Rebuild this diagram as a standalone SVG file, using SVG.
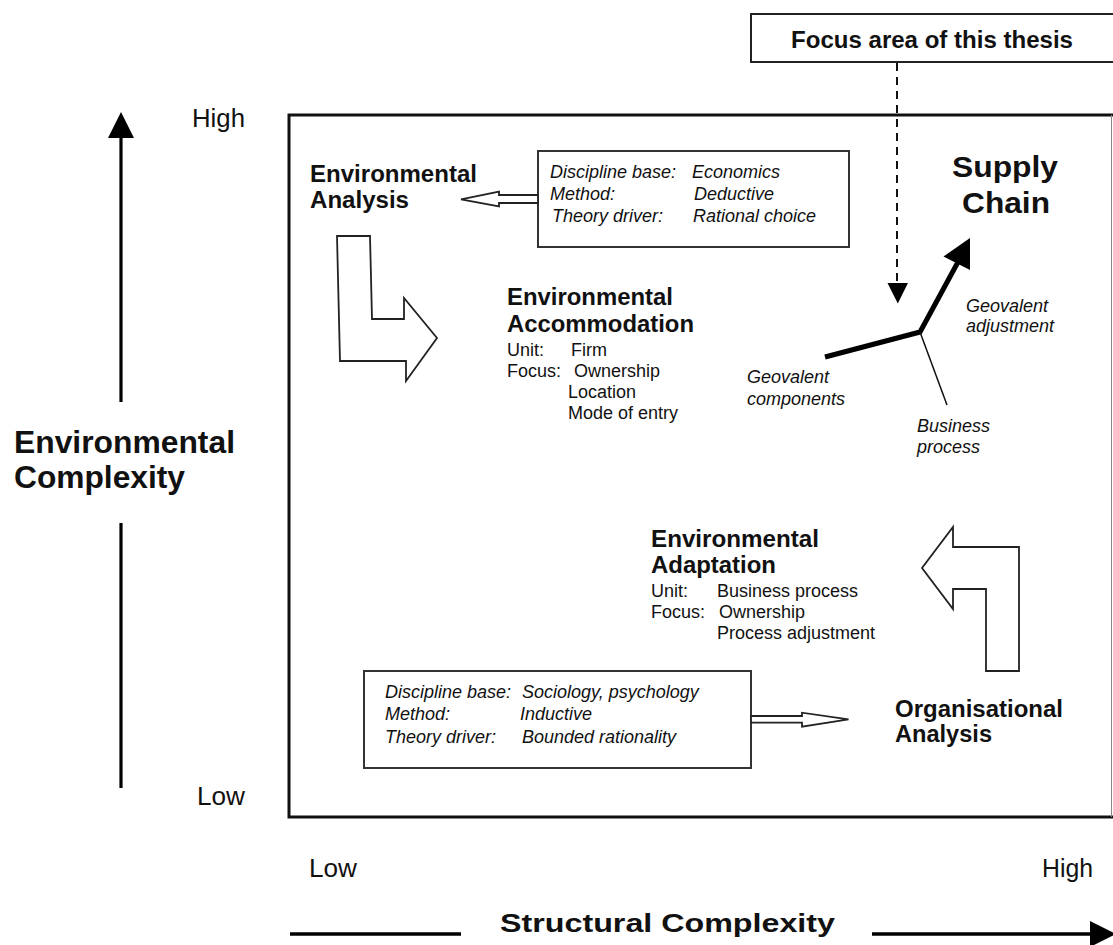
<svg xmlns="http://www.w3.org/2000/svg" width="1113" height="945" viewBox="0 0 1113 945">
<style>
text{font-family:"Liberation Sans",Arial,Helvetica,sans-serif;fill:#111}
.b{font-weight:bold}
.h{font-weight:bold;font-size:23px}
.r{font-size:18px}
.i{font-size:18px;font-style:italic}
.ax{font-size:25px}
.box{fill:#fff;stroke:#333;stroke-width:2}
.hollow{fill:#fff;stroke:#222;stroke-width:1.8;stroke-linejoin:miter}
.thick{stroke:#000;stroke-width:5;fill:none}
</style>
<rect width="1113" height="945" fill="#fff"/>

<g id="frame">
<path d="M1113,115 H289 V817 H1113" fill="none" stroke="#111" stroke-width="3"/>
<line x1="1111.5" y1="115" x2="1111.5" y2="817" stroke="#888" stroke-width="1"/>
</g>

<g id="y-axis">
<line x1="121" y1="136" x2="121" y2="402" stroke="#000" stroke-width="3.2"/>
<polygon points="108,138 134,138 121,112" fill="#000"/>
<line x1="121" y1="523" x2="121" y2="788" stroke="#000" stroke-width="3.2"/>
<text class="b" x="14" y="453" font-size="31" textLength="221" lengthAdjust="spacingAndGlyphs">Environmental</text>
<text class="b" x="14" y="488" font-size="31" textLength="171" lengthAdjust="spacingAndGlyphs">Complexity</text>
<text class="ax" x="192" y="127" textLength="53" lengthAdjust="spacingAndGlyphs">High</text>
<text class="ax" x="197" y="805" textLength="48" lengthAdjust="spacingAndGlyphs">Low</text>
</g>

<g id="x-axis">
<line x1="290" y1="934" x2="461" y2="934" stroke="#000" stroke-width="3.5"/>
<line x1="872" y1="934" x2="1092" y2="934" stroke="#000" stroke-width="3.5"/>
<polygon points="1090,921 1090,947 1116,934" fill="#000"/>
<text class="b" x="500" y="932" font-size="26" textLength="335" lengthAdjust="spacingAndGlyphs">Structural Complexity</text>
<text class="ax" x="309" y="877" textLength="48" lengthAdjust="spacingAndGlyphs">Low</text>
<text class="ax" x="1042" y="877" textLength="51" lengthAdjust="spacingAndGlyphs">High</text>
</g>

<g id="focus-box">
<rect x="751" y="14" width="370" height="48" fill="#fff" stroke="#222" stroke-width="2"/>
<text class="b" x="791" y="48" font-size="23" textLength="282" lengthAdjust="spacingAndGlyphs">Focus area of this thesis</text>
</g>

<g id="environmental-analysis">
<text class="h" x="310" y="182" textLength="167" lengthAdjust="spacingAndGlyphs">Environmental</text>
<text class="h" x="310" y="208" textLength="99" lengthAdjust="spacingAndGlyphs">Analysis</text>
</g>

<g id="economics-box">
<rect class="box" x="538" y="151" width="311" height="96"/>
<text class="i" x="550" y="178">Discipline base:</text>
<text class="i" x="692" y="178">Economics</text>
<text class="i" x="550" y="200">Method:</text>
<text class="i" x="694" y="200">Deductive</text>
<text class="i" x="552" y="222">Theory driver:</text>
<text class="i" x="693" y="222">Rational choice</text>
</g>

<g id="environmental-accommodation">
<text class="h" x="507" y="305" textLength="166" lengthAdjust="spacingAndGlyphs">Environmental</text>
<text class="h" x="507" y="332" textLength="187" lengthAdjust="spacingAndGlyphs">Accommodation</text>
<text class="r" x="507" y="356">Unit:</text>
<text class="r" x="571" y="356">Firm</text>
<text class="r" x="507" y="377">Focus:</text>
<text class="r" x="574" y="377">Ownership</text>
<text class="r" x="568" y="398">Location</text>
<text class="r" x="568" y="419">Mode of entry</text>
</g>

<g id="supply-chain">
<text class="b" x="952" y="177" font-size="30" textLength="106" lengthAdjust="spacingAndGlyphs">Supply</text>
<text class="b" x="962" y="213" font-size="30" textLength="88" lengthAdjust="spacingAndGlyphs">Chain</text>
<text class="i" x="966" y="312">Geovalent</text>
<text class="i" x="966" y="332">adjustment</text>
<text class="i" x="747" y="383">Geovalent</text>
<text class="i" x="747" y="405">components</text>
<text class="i" x="917" y="432">Business</text>
<text class="i" x="917" y="453">process</text>
</g>

<g id="environmental-adaptation">
<text class="h" x="651" y="547" textLength="168" lengthAdjust="spacingAndGlyphs">Environmental</text>
<text class="h" x="651" y="573" textLength="125" lengthAdjust="spacingAndGlyphs">Adaptation</text>
<text class="r" x="651" y="597">Unit:</text>
<text class="r" x="717" y="597">Business process</text>
<text class="r" x="651" y="618">Focus:</text>
<text class="r" x="719" y="618">Ownership</text>
<text class="r" x="717" y="639">Process adjustment</text>
</g>

<g id="sociology-box">
<rect class="box" x="364" y="671" width="387" height="97"/>
<text class="i" x="385" y="698">Discipline base:</text>
<text class="i" x="522" y="698">Sociology, psychology</text>
<text class="i" x="385" y="720">Method:</text>
<text class="i" x="520" y="720">Inductive</text>
<text class="i" x="385" y="743">Theory driver:</text>
<text class="i" x="522" y="743">Bounded rationality</text>
</g>

<g id="organisational-analysis">
<text class="h" x="895" y="717" textLength="168" lengthAdjust="spacingAndGlyphs">Organisational</text>
<text class="h" x="895" y="742" textLength="97" lengthAdjust="spacingAndGlyphs">Analysis</text>
</g>

<g id="connectors">
<polygon class="hollow" points="538,195 499,195 499,191.5 461,199.3 499,206.5 499,203 538,203"/>
<polygon class="hollow" points="337,236 370,236 372,319 404,319 404,298 437,338 406,381 406,361 340,361"/>
<polygon class="hollow" points="1019,547 953,547 953,527 922,568 953,609 953,589 986,589 986,671 1019,671"/>
<polygon class="hollow" points="751,716 802,716 802,712.7 848.5,719.3 802,726.7 802,722.7 751,722.7"/>
<line x1="897" y1="63" x2="897" y2="284" stroke="#111" stroke-width="2" stroke-dasharray="8,6"/>
<polygon points="887.5,283 908,283 897.8,303.5" fill="#000"/>
<polyline class="thick" points="825,357 920,332 958,262"/>
<polygon points="970,238 943.5,256.5 970,270" fill="#000"/>
<line x1="920" y1="332" x2="947" y2="405" stroke="#111" stroke-width="1.5"/>
</g>
</svg>
